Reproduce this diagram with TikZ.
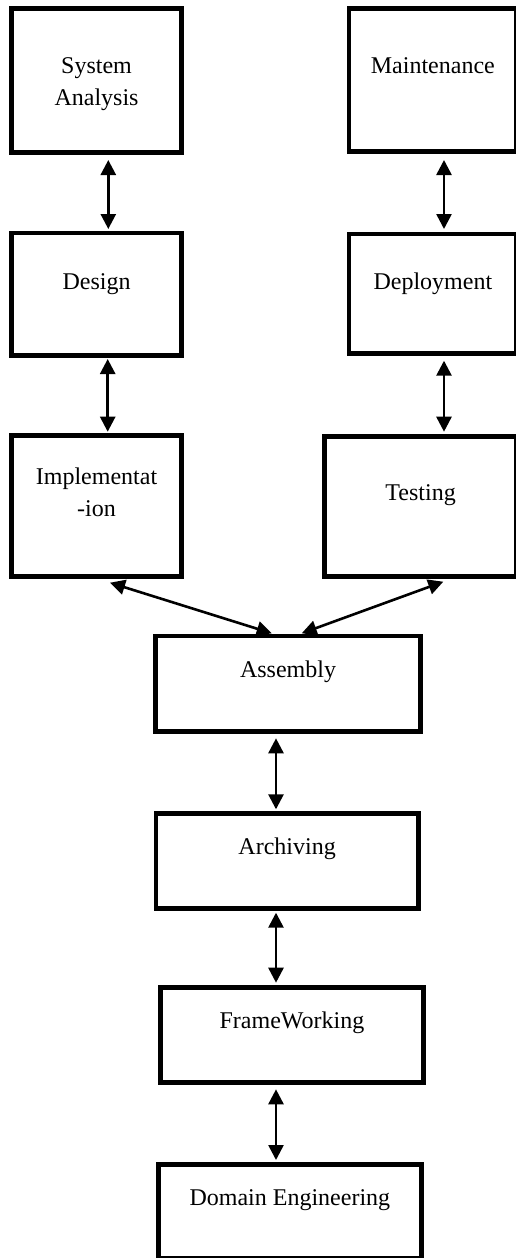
\documentclass[tikz,border=0pt]{standalone}
\usepackage{fontspec}
\setmainfont{Liberation Serif}
\usetikzlibrary{arrows.meta,calc}
\begin{document}
\begin{tikzpicture}[x=1pt,y=-1pt,
  stage/.style={draw=black, line width=4.7pt, rectangle, inner sep=0pt, outer sep=0pt},
  caption/.style={anchor=base, inner sep=0pt, font=\fontsize{24}{28}\selectfont},
  link/.style={line width=2.6pt,
    {Triangle[width=15pt,length=15pt]}-{Triangle[width=15pt,length=15pt]}}]
\useasboundingbox (0,0) rectangle (515,1258);
\fill[white] (0,0) rectangle (515,1258);

% left column
\node[stage, minimum width=169.5pt, minimum height=143.9pt] (sa)  at (96.55,80.75) {};
\node[stage, minimum width=169.5pt, minimum height=122.5pt] (des) at (96.55,294.25) {};
\node[stage, minimum width=169.5pt, minimum height=140.7pt] (imp) at (96.55,506.15) {};
% right column
\node[stage, minimum width=167.7pt, minimum height=142.7pt] (mnt) at (432.85,80.15) {};
\node[stage, minimum width=167.7pt, minimum height=119.5pt] (dep) at (432.85,293.75) {};
\node[stage, minimum width=192.2pt, minimum height=140pt]   (tst) at (420.6,506.5) {};
% central chain
\node[stage, minimum width=264.4pt, minimum height=95.8pt] (asm) at (288,683.9) {};
\node[stage, minimum width=262.2pt, minimum height=95.2pt] (arc) at (287.1,860.9) {};
\node[stage, minimum width=263pt,   minimum height=95pt]   (frw) at (292,1035) {};
\node[stage, minimum width=263.3pt, minimum height=94.3pt] (dom) at (289.85,1211.35) {};

% labels
\node[caption] (sa-a)  at ($(sa.north)+(0,64.2)$) {System};
\node[caption] (sa-b)  at ($(sa.north)+(0,96.2)$) {Analysis};
\node[caption] (des-a) at ($(des.north)+(0,56)$) {Design};
\node[caption] (imp-a) at ($(imp.north)+(0,48.2)$) {Implementat};
\node[caption] (imp-b) at ($(imp.north)+(0,80.2)$) {-ion};
\node[caption] (mnt-a) at ($(mnt.north)+(0,65)$) {Maintenance};
\node[caption] (dep-a) at ($(dep.north)+(0,55)$) {Deployment};
\node[caption] (tst-a) at ($(tst.north)+(0,64.2)$) {Testing};
\node[caption] (asm-a) at ($(asm.north)+(0,41)$) {Assembly};
\node[caption] (arc-a) at ($(arc.north)+(0,41.4)$) {Archiving};
\node[caption] (frw-a) at ($(frw.north)+(0,41.2)$) {FrameWorking};
\node[caption] (dom-a) at ($(dom.north)+(0,41.5)$) {Domain Engineering};

% connectors
\draw[link] ($(sa.south)+(11.75,7.3)$)   -- ($(des.north)+(11.75,-4)$);
\draw[link] ($(des.south)+(11.15,3.5)$)  -- ($(imp.north)+(11.15,-4.1)$);
\draw[link] ($(mnt.south)+(11.15,8.5)$)  -- ($(dep.north)+(11.15,-5)$);
\draw[link] ($(dep.south)+(11.15,7.2)$)  -- ($(tst.north)+(23.4,-4.8)$);
\draw[link] ($(imp.south)+(13.45,6.2)$)  -- ($(asm.north)+(-16.3,-2.7)$);
\draw[link] ($(tst.south)+(22.7,5.2)$)   -- ($(asm.north)+(13.7,-2.7)$);
\draw[link] ($(asm.south)+(-12,6.5)$)    -- ($(arc.north)+(-11.1,-4)$);
\draw[link] ($(arc.south)+(-11.1,4.2)$)  -- ($(frw.north)+(-16,-4.8)$);
\draw[link] ($(frw.south)+(-16,6.8)$)    -- ($(dom.north)+(-13.85,-4.2)$);
\end{tikzpicture}
\end{document}
